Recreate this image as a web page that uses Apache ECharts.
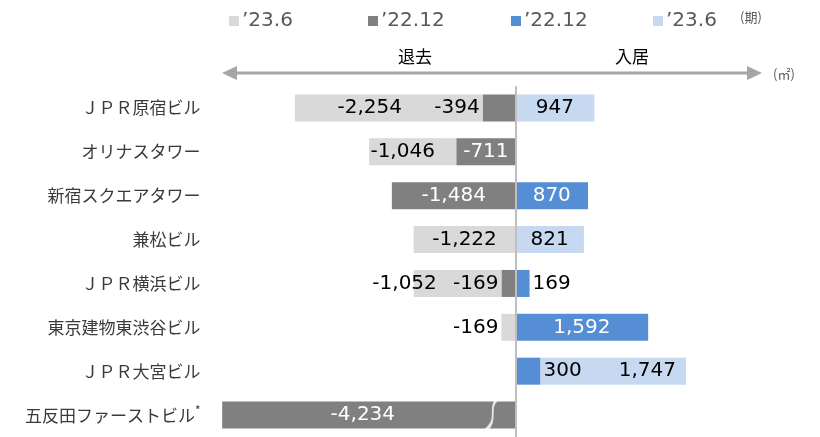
<!DOCTYPE html>
<html>
<head>
<meta charset="utf-8">
<script src="https://cdn.jsdelivr.net/npm/echarts@6/dist/echarts.min.js"></script>
<style>html,body{margin:0;padding:0;background:#fff}#c{width:820px;height:437px}</style>
</head>
<body>
<div id="c"></div>
<script>
// ---- data ----
var categories = ['ＪＰＲ原宿ビル','オリナスタワー','新宿スクエアタワー','兼松ビル','ＪＰＲ横浜ビル','東京建物東渋谷ビル','ＪＰＲ大宮ビル','五反田ファーストビル'];
var footnotes = ['', '', '', '', '', '', '', '*'];
var legendLabels = ['’23.6', '’22.12', '’22.12', '’23.6'];
var unitPeriod = '(期)';
var unitArea = '(㎡)';
var sideLabels = ['退去', '入居'];
// move-out (negative) and move-in (positive), per period
var out2212 = [-394, -711, -1484, null, -169, null, null, -4234];
var out2306 = [-2254, -1046, null, -1222, -1052, -169, null, null];
var in2212  = [null, null, 870, null, 169, 1592, 300, null];
var in2306  = [947, null, null, 821, null, null, 1747, null];
// axis-break: the 五反田 bar is drawn truncated at this axis value
var BREAK_CAP = -3520;
var BREAK_MARK_AT = -294;

var fmt = function (v) { return Number(v).toLocaleString('en-US'); };
var NUMFONT = 'DejaVu Sans';
var colors = ['#d9d9d9', '#808080', '#558ed5', '#c6d9f1'];

// label style overrides (series key -> index -> style)
var labelOverrides = {
  out2212: {0: {position: 'left', color: '#000'}, 4: {position: 'left', color: '#000'}, 7: {offset: [-6, 0]}},
  out2306: {0: {offset: [-19, 0]}, 1: {offset: [-10, 0]}, 4: {offset: [-53, 0]}, 5: {position: 'left'}},
  in2212:  {4: {position: 'right', color: '#000'}, 6: {position: 'right', color: '#000'}},
  in2306:  {6: {offset: [34, 0]}}
};

function buildData(key, arr, baseColor) {
  return arr.map(function (v, i) {
    if (v === null) return null;
    var shown = (v < BREAK_CAP) ? BREAK_CAP : v;
    var lab = Object.assign({show: true, position: 'inside', color: baseColor,
      fontFamily: NUMFONT, fontSize: 20, distance: 3,
      formatter: function () { return fmt(v); }}, (labelOverrides[key] || {})[i] || {});
    return {value: shown, label: lab};
  });
}

var names = ['out2306', 'out2212', 'in2212', 'in2306'];
var chart = echarts.init(document.getElementById('c'));

function mkSeries(name, arr, color, labColor) {
  return {
    name: name, type: 'bar', stack: 'all', barWidth: 27,
    itemStyle: {color: color},
    data: buildData(name, arr, labColor),
    z: 2
  };
}

var s22o = mkSeries('out2212', out2212, colors[1], '#fff');
s22o.markLine = {
  silent: true, symbol: 'none', animation: false,
  label: {show: false},
  lineStyle: {color: '#bfbfbf', width: 2, type: 'solid'},
  data: [{xAxis: 0}]
};

var legendLefts = [224, 363, 506, 648];
var legends = names.map(function (n, i) {
  return {
    data: [n], left: legendLefts[i], top: 6, icon: 'rect',
    itemWidth: 10, itemHeight: 10, itemGap: 0,
    selectedMode: false,
    formatter: function () { return legendLabels[i]; },
    textStyle: {fontFamily: NUMFONT, fontSize: 20, color: '#595959', padding: [0, 0, 0, -2]}
  };
});

var option = {
  animation: false,
  legend: legends,
  grid: {left: 215.5, right: 54.5, top: 86, height: 354},
  xAxis: {
    type: 'value', min: -3600, max: 3000,
    show: false
  },
  yAxis: {
    type: 'category', data: categories, inverse: true,
    axisLine: {show: false}, axisTick: {show: false},
    axisLabel: {
      margin: 15,
      fontFamily: 'Noto Sans CJK JP', fontSize: 17, color: '#3a3a3a',
      formatter: function (v, i) {
        return footnotes[i] ? v + '{sup|' + footnotes[i] + '}' : v;
      },
      rich: {sup: {fontFamily: 'Noto Sans CJK JP', fontSize: 12, color: '#3a3a3a', padding: [0, 0, 10, 0]}}
    }
  },
  series: [
    s22o,
    mkSeries('out2306', out2306, colors[0], '#000'),
    mkSeries('in2212', in2212, colors[2], '#fff'),
    mkSeries('in2306', in2306, colors[3], '#000'),
    {
      type: 'scatter', silent: true, z: 5,
      symbol: 'path://M14,0 C6,10 16,20 4,32',
      symbolSize: [12, 32],
      itemStyle: {color: 'rgba(0,0,0,0)', borderColor: '#fff', borderWidth: 3},
      data: [[BREAK_MARK_AT, categories[7]]]
    }
  ],
  graphic: [
    {type: 'line', shape: {x1: 232, y1: 73, x2: 752, y2: 73}, style: {stroke: '#a6a6a6', lineWidth: 3}},
    {type: 'polygon', shape: {points: [[222, 73], [237, 66], [237, 80]]}, style: {fill: '#a6a6a6'}},
    {type: 'polygon', shape: {points: [[762, 73], [747, 66], [747, 80]]}, style: {fill: '#a6a6a6'}},
    {type: 'text', x: 415, y: 57, style: {text: sideLabels[0], fill: '#000', font: '17px "Noto Sans CJK JP"', align: 'center', verticalAlign: 'middle'}},
    {type: 'text', x: 632, y: 57, style: {text: sideLabels[1], fill: '#000', font: '17px "Noto Sans CJK JP"', align: 'center', verticalAlign: 'middle'}},
    {type: 'text', x: 773, y: 74, style: {text: unitArea, fill: '#595959', font: '13px "Noto Sans CJK JP"', align: 'left', verticalAlign: 'middle'}},
    {type: 'text', x: 740, y: 17, style: {text: unitPeriod, fill: '#595959', font: '13px "Noto Sans CJK JP"', align: 'left', verticalAlign: 'middle'}}
  ]
};
chart.setOption(option);
</script>
</body>
</html>
